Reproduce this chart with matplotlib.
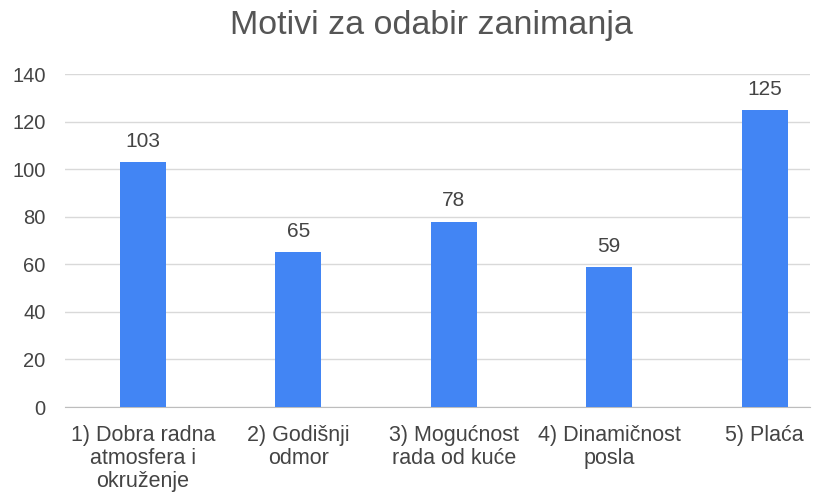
import matplotlib.pyplot as plt

# Data
categories = ['1) Dobra radna\natmosfera i\nokruženje', '2) Godišnji\nodmor',
              '3) Mogućnost\nrada od kuće', '4) Dinamičnost\nposla', '5) Plaća']
values = [103, 65, 78, 59, 125]
yticks = [0, 20, 40, 60, 80, 100, 120, 140]

plt.rcParams['font.family'] = ['Liberation Sans', 'DejaVu Sans']

fig = plt.figure(figsize=(8.18, 4.94), dpi=100)
ax = fig.add_axes([0.0795, 0.176, 0.9105, 0.674])

x = list(range(len(categories)))
bars = ax.bar(x, values, width=0.296, color='#4285F4', zorder=3)

for xi, v in zip(x, values):
    ax.annotate(str(v), (xi, v), xytext=(0, 8), textcoords='offset points',
                ha='center', va='bottom', fontsize=15, color='#444444')

ax.set_xlim(-0.5, 4.29)
ax.set_ylim(0, 140)
ax.set_yticks(yticks)
ax.set_xticks(x)
ax.set_xticklabels(categories, fontsize=15.5, color='#444444', linespacing=1.12,
                   multialignment='center')
ax.tick_params(axis='y', labelsize=14.5, labelcolor='#444444', length=0, pad=14)
ax.tick_params(axis='x', length=0, pad=13)
ax.grid(axis='y', color='#d9d9d9', linewidth=1, zorder=0)
for s in ['top', 'right', 'left']:
    ax.spines[s].set_visible(False)
ax.spines['bottom'].set_color('#bdbdbd')

fig.text(0.528, 0.948, 'Motivi za odabir zanimanja', ha='center', va='center',
         fontsize=24.5, color='#555555')

fig.savefig('out.png', dpi=100)
